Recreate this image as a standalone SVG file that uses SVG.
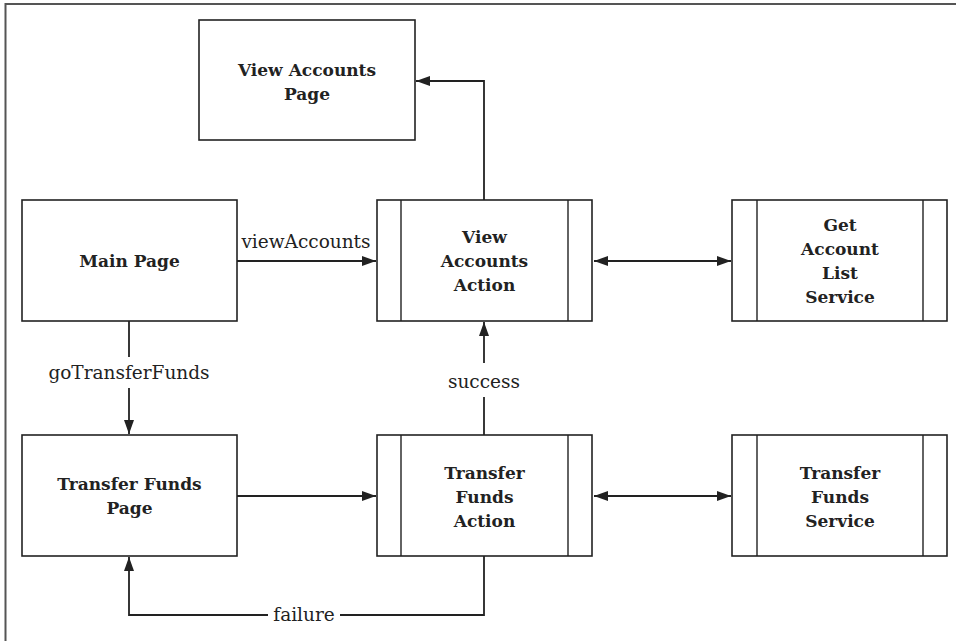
<svg xmlns="http://www.w3.org/2000/svg" width="956" height="641" viewBox="0 0 956 641">
<style>
.box{fill:#fff;stroke:#222;stroke-width:1.6}
.in{stroke:#222;stroke-width:1.4}
.ln{fill:none;stroke:#222;stroke-width:1.8}
.bt{font-family:"DejaVu Serif",serif;font-weight:bold;font-size:17px;fill:#222;text-anchor:middle}
.lb{font-family:"DejaVu Serif",serif;font-size:18.5px;fill:#222;text-anchor:middle}
</style>
<defs>
<marker id="ah" viewBox="0 0 14 10" refX="14" refY="5" markerWidth="14" markerHeight="10" markerUnits="userSpaceOnUse" orient="auto-start-reverse">
<path d="M0,0 L14,5 L0,10 Z" fill="#222"/>
</marker>
</defs>
<path d="M5.5,641 V4 H956" fill="none" stroke="#555" stroke-width="2"/>
<g id="connectors">
<path class="ln" d="M484,200 V81 H416" marker-end="url(#ah)"/>
<path class="ln" d="M237,261 H376" marker-end="url(#ah)"/>
<path class="ln" d="M594,261 H731" marker-start="url(#ah)" marker-end="url(#ah)"/>
<path class="ln" d="M129,321 V357"/>
<path class="ln" d="M129,388 V434" marker-end="url(#ah)"/>
<path class="ln" d="M237,496 H376" marker-end="url(#ah)"/>
<path class="ln" d="M594,496 H731" marker-start="url(#ah)" marker-end="url(#ah)"/>
<path class="ln" d="M484,435 V397"/>
<path class="ln" d="M484,363 V322" marker-end="url(#ah)"/>
<path class="ln" d="M484,556 V615 H340"/>
<path class="ln" d="M268,615 H129 V557" marker-end="url(#ah)"/>
<text class="lb" x="306" y="248">viewAccounts</text>
<text class="lb" x="129" y="379">goTransferFunds</text>
<text class="lb" x="484" y="388">success</text>
<text class="lb" x="304" y="621">failure</text>
</g>
<g id="view-accounts-page">
<rect class="box" x="199" y="20" width="216" height="120"/>
<text class="bt" x="307" y="76">View Accounts</text>
<text class="bt" x="307" y="100">Page</text>
</g>
<g id="main-page">
<rect class="box" x="22" y="200" width="215" height="121"/>
<text class="bt" x="129.5" y="267">Main Page</text>
</g>
<g id="view-accounts-action">
<rect class="box" x="377" y="200" width="215" height="121"/>
<line class="in" x1="401" y1="200" x2="401" y2="321"/>
<line class="in" x1="568" y1="200" x2="568" y2="321"/>
<text class="bt" x="484.5" y="243">View</text>
<text class="bt" x="484.5" y="267">Accounts</text>
<text class="bt" x="484.5" y="291">Action</text>
</g>
<g id="get-account-list-service">
<rect class="box" x="732" y="200" width="215" height="121"/>
<line class="in" x1="757" y1="200" x2="757" y2="321"/>
<line class="in" x1="923" y1="200" x2="923" y2="321"/>
<text class="bt" x="840" y="231">Get</text>
<text class="bt" x="840" y="255">Account</text>
<text class="bt" x="840" y="279">List</text>
<text class="bt" x="840" y="303">Service</text>
</g>
<g id="transfer-funds-page">
<rect class="box" x="22" y="435" width="215" height="121"/>
<text class="bt" x="129.5" y="490">Transfer Funds</text>
<text class="bt" x="129.5" y="514">Page</text>
</g>
<g id="transfer-funds-action">
<rect class="box" x="377" y="435" width="215" height="121"/>
<line class="in" x1="401" y1="435" x2="401" y2="556"/>
<line class="in" x1="568" y1="435" x2="568" y2="556"/>
<text class="bt" x="484.5" y="479">Transfer</text>
<text class="bt" x="484.5" y="503">Funds</text>
<text class="bt" x="484.5" y="527">Action</text>
</g>
<g id="transfer-funds-service">
<rect class="box" x="732" y="435" width="215" height="121"/>
<line class="in" x1="757" y1="435" x2="757" y2="556"/>
<line class="in" x1="923" y1="435" x2="923" y2="556"/>
<text class="bt" x="840" y="479">Transfer</text>
<text class="bt" x="840" y="503">Funds</text>
<text class="bt" x="840" y="527">Service</text>
</g>
</svg>
